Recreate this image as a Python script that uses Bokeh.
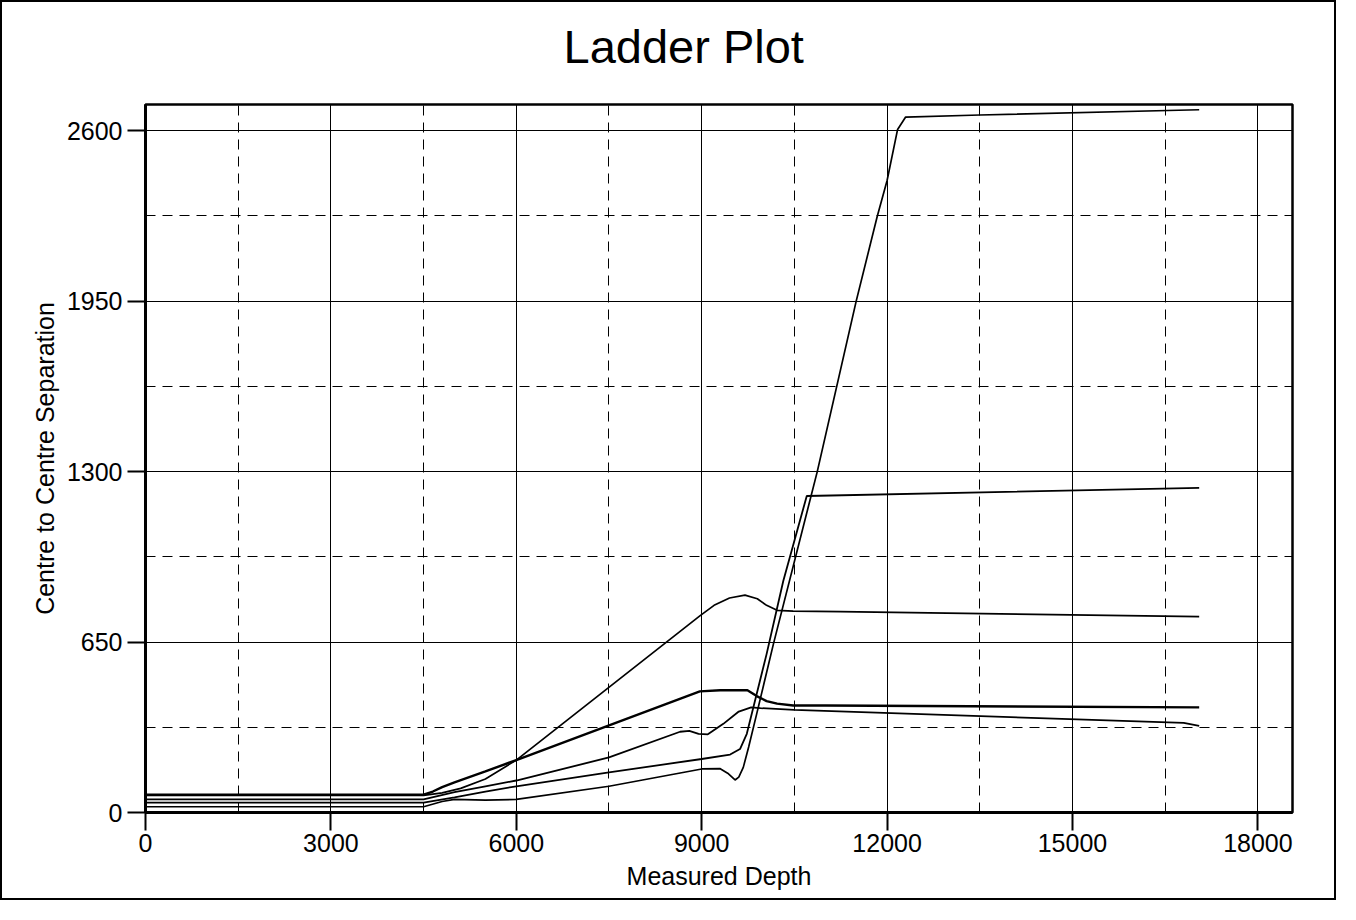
from bokeh.plotting import figure
from bokeh.models import FixedTicker, Range1d, Title
from bokeh.embed import file_html
from bokeh.resources import INLINE

FONT = "Liberation Sans"

# ---- data ----
title_text = "Ladder Plot"
x_major_ticks = [0, 3000, 6000, 9000, 12000, 15000, 18000]
x_minor_ticks = [1500, 4500, 7500, 10500, 13500, 16500]
y_major_ticks = [0, 650, 1300, 1950, 2600]
y_minor_ticks = [325, 975, 1625, 2275]

# curve with the broad peak near 9700
depth_a = [0, 4500, 4800, 5100, 5500, 6000, 8970, 9200, 9450, 9700, 9900, 10050, 10220, 10480, 11240, 17050]
sep_a = [65, 65, 75, 92, 128, 200, 750, 790, 818, 829, 815, 790, 771, 768, 766, 747]

# thick curve with plateau near 465
depth_b = [0, 4500, 4650, 4800, 5000, 5500, 6000, 8970, 9300, 9740, 9890, 10050, 10220, 10480, 11000, 17050]
sep_b = [68, 68, 80, 97, 115, 157, 200, 462, 466, 466, 444, 425, 415, 408, 408, 401]

# curve with small dip near 9100, ending near 330
depth_c = [0, 4500, 5000, 5500, 6000, 7500, 8650, 8800, 8950, 9100, 9350, 9600, 9800, 9950, 10500, 16800, 17050]
sep_c = [50, 50, 78, 100, 122, 210, 308, 311, 300, 298, 338, 385, 401, 398, 391, 342, 330]

# curve rising steeply to the 1200 plateau
depth_d = [0, 4500, 5000, 5500, 6000, 7500, 9000, 9460, 9620, 9730, 10050, 10320, 10700, 17050]
sep_d = [38, 38, 58, 80, 100, 153, 204, 221, 242, 300, 604, 883, 1207, 1238]

# curve rising steeply to the 2650 plateau
depth_e = [0, 4500, 4800, 5000, 5500, 6000, 7500, 9000, 9300, 9420, 9540, 9600, 9673, 9760, 9890,
           10160, 10870, 11500, 11840, 12000, 12170, 12300, 13500, 17050]
sep_e = [22, 22, 42, 50, 47, 50, 100, 166, 167, 150, 124, 135, 172, 250, 376,
         642, 1300, 1950, 2273, 2410, 2605, 2652, 2660, 2680]

series = [
    (depth_a, sep_a, 1.7),
    (depth_b, sep_b, 2.4),
    (depth_c, sep_c, 1.8),
    (depth_d, sep_d, 1.8),
    (depth_e, sep_e, 1.7),
]

p = figure(
    width=1336, height=900,
    output_backend="svg", toolbar_location=None,
    x_range=Range1d(0, 18560), y_range=Range1d(0, 2700),
    min_border_left=143, min_border_right=46, min_border_top=101, min_border_bottom=90,
    title=title_text,
    x_axis_label="Measured Depth",
    y_axis_label="Centre to Centre Separation",
)
p.styles = {"border": "2px solid black"}
p.background_fill_color = "white"
p.border_fill_color = "white"
p.outline_line_color = "black"
p.outline_line_width = 2.5

# title
p.title.text_font = FONT
p.title.text_font_size = "47px"
p.title.text_font_style = "normal"
p.title.text_color = "black"
p.title.align = "left"
p.title.offset = 418
p.title.vertical_align = "top"
p.title.standoff = 34

# blank spacer panel between the title and the frame
p.add_layout(Title(text=" ", text_font_size="1px", standoff=10), "above")

xt = FixedTicker(ticks=x_major_ticks, minor_ticks=x_minor_ticks)
yt = FixedTicker(ticks=y_major_ticks, minor_ticks=y_minor_ticks)
p.xaxis.ticker = xt
p.yaxis.ticker = yt
p.xgrid.ticker = xt
p.ygrid.ticker = yt

for ax in (p.xaxis, p.yaxis):
    ax.axis_line_color = "black"
    ax.axis_line_width = 3
    ax.major_tick_out = 18
    ax.major_tick_in = 0
    ax.major_tick_line_width = 2
    ax.major_tick_line_color = "black"
    ax.minor_tick_out = 0
    ax.minor_tick_in = 0
    ax.minor_tick_line_color = None
    ax.major_label_text_font = FONT
    ax.major_label_text_font_size = "25px"
    ax.major_label_text_color = "black"
    ax.axis_label_text_font = FONT
    ax.axis_label_text_font_size = "25px"
    ax.axis_label_text_font_style = "normal"
    ax.axis_label_text_color = "black"

p.xaxis.major_label_standoff = 3
p.xaxis.axis_label_standoff = 7
p.yaxis.major_label_standoff = 5
p.yaxis.axis_label_standoff = 5

for g in (p.xgrid, p.ygrid):
    g.grid_line_color = "black"
    g.grid_line_width = 1
    g.minor_grid_line_color = "black"
    g.minor_grid_line_width = 1
    g.minor_grid_line_dash = "10 7"

for xs, ys, w in series:
    p.line(xs, ys, line_color="black", line_width=w)

open("out.html", "w").write(file_html(p, INLINE))
